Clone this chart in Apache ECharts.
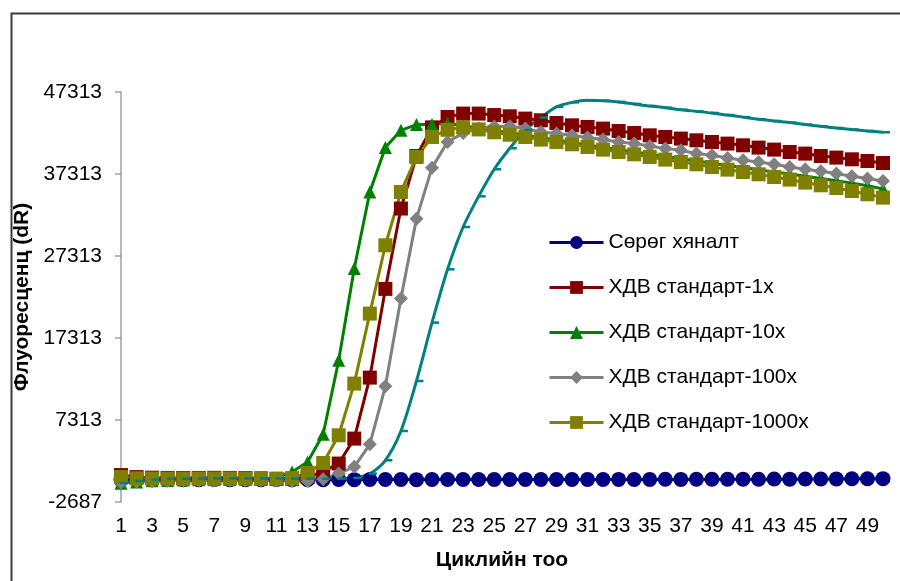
<!DOCTYPE html>
<html>
<head>
<meta charset="utf-8">
<script src="https://cdn.jsdelivr.net/npm/echarts@6/dist/echarts.min.js"></script>
<style>
html,body{margin:0;padding:0;background:#fff;}
#chart{width:900px;height:581px;}
</style>
</head>
<body>
<div id="chart"></div>
<script>
const cycles = Array.from({length: 50}, (_, i) => String(i + 1));
const yTickValues = [-2687, 7313, 17313, 27313, 37313, 47313];

const seriesNames = ['Сөрөг хяналт', 'ХДВ стандарт-1x', 'ХДВ стандарт-10x', 'ХДВ стандарт-100x', 'ХДВ стандарт-1000x'];

const negControl = [40, 30, 30, 40, 30, 40, 50, 40, 30, 40, 50, 40, 30, 40, 50, 40, 50, 60, 50, 40,
  50, 60, 50, 60, 50, 60, 70, 60, 50, 60, 70, 60, 70, 60, 70, 80, 70, 90, 80, 90,
  100, 90, 110, 100, 120, 110, 130, 140, 150, 160];

const std1x = [600, 350, 280, 250, 240, 250, 260, 250, 240, 200, 120, 150, 350, 1000, 2000, 5045, 12483, 23300, 33100, 39500,
  43000, 44264, 44679, 44680, 44500, 44350, 44069, 43860, 43533, 43250, 43045, 42850, 42557, 42313, 42032, 41826, 41630, 41422, 41215, 41020,
  40813, 40532, 40288, 39995, 39800, 39507, 39312, 39105, 38898, 38654];

const std10x = [-400, -250, -100, -50, 0, 20, 50, 50, 80, 100, 250, 970, 2190, 5570, 14590, 25780, 35120, 40530, 42640, 43340,
  43340, 43500, 43200, 42900, 42600, 42350, 42050, 41750, 41450, 41150, 40850, 40550, 40280, 40000, 39720, 39450, 39180, 38900, 38630, 38360,
  38100, 37830, 37560, 37300, 37030, 36760, 36500, 36200, 35870, 35500];

const std100x = [-300, -200, -150, -100, -80, -60, -50, -50, -60, -80, -100, -120, -150, 100, 800, 1600, 4350, 11420, 22120, 31870,
  38090, 41215, 42300, 42850, 43100, 43130, 42850, 42435, 42240, 42032, 41752, 41508, 41215, 41020, 40727, 40410, 40203, 39800, 39593, 39264,
  38983, 38776, 38495, 38166, 37886, 37642, 37361, 37032, 36752, 36460];

const std1000x = [350, 200, 180, 170, 170, 180, 180, 190, 190, 180, 170, 220, 850, 2070, 5450, 11750, 20290, 28620, 35120, 39390,
  41830, 42700, 43000, 42750, 42400, 42100, 41826, 41508, 41215, 40935, 40605, 40288, 39995, 39715, 39386, 39069, 38776, 38495, 38166, 37849,
  37556, 37276, 36947, 36630, 36265, 35935, 35606, 35240, 34838, 34435];

const extraCurve = [-370, -120, 60, 120, 150, 170, 180, 190, 190, 180, 170, 160, 150, 150, 170, 250, 780, 2400, 5970, 12070,
  19190, 25690, 30850, 34590, 37890, 40450, 42700, 44200, 45500, 46050, 46300, 46250, 46100, 45850, 45600, 45400, 45150, 44950, 44750, 44500,
  44250, 44000, 43780, 43580, 43340, 43130, 42920, 42730, 42560, 42400];

const FONT = 'Liberation Sans, Arial, sans-serif';

function mk(name, data, color, symbol, size) {
  return {
    name: name, type: 'line', data: data,
    symbol: symbol, symbolSize: size, showSymbol: true, showAllSymbol: true,
    lineStyle: {color: color, width: 3},
    itemStyle: {color: color},
    emphasis: {disabled: true},
    animation: false
  };
}

const chart = echarts.init(document.getElementById('chart'), null, {renderer: 'canvas'});
chart.setOption({
  backgroundColor: '#ffffff',
  animation: false,
  textStyle: {fontFamily: FONT},
  grid: {left: 121, right: 17, top: 92, bottom: 79, containLabel: false},
  legend: {
    data: seriesNames,
    orient: 'vertical',
    left: 548, top: 232, padding: 0,
    itemWidth: 54, itemHeight: 16, itemGap: 24,
    lineStyle: {width: 3},
    textStyle: {fontSize: 21, color: '#000', fontFamily: FONT, lineHeight: 21},
    selectedMode: false
  },
  xAxis: {
    type: 'category', data: cycles, boundaryGap: false,
    name: 'Циклийн тоо', nameLocation: 'middle', nameGap: 48,
    nameTextStyle: {fontSize: 21, fontWeight: 'bold', color: '#000', fontFamily: FONT},
    axisLine: {lineStyle: {color: '#a0a0a0', width: 1.5}},
    axisTick: {show: true, interval: 1, length: 6, inside: false, lineStyle: {color: '#a0a0a0', width: 1.5}},
    axisLabel: {interval: 1, fontSize: 21, color: '#000', margin: 14, fontFamily: FONT},
    splitLine: {show: false}
  },
  yAxis: {
    type: 'value', min: -2687, max: 47313,
    name: 'Флуоресценц (dR)', nameLocation: 'middle', nameGap: 73, nameRotate: 90,
    nameTextStyle: {fontSize: 21, fontWeight: 'bold', color: '#000', fontFamily: FONT},
    axisLine: {show: true, lineStyle: {color: '#a0a0a0', width: 1.5}},
    axisTick: {show: true, length: 6, customValues: yTickValues, lineStyle: {color: '#a0a0a0', width: 1.5}},
    axisLabel: {customValues: yTickValues, fontSize: 21, color: '#000', margin: 19, fontFamily: FONT,
      formatter: function (v) { return String(Math.round(v)); }},
    splitLine: {show: false}
  },
  graphic: [{
    type: 'rect', left: 9, top: 11, silent: true,
    shape: {x: 0, y: 0, width: 1000, height: 1000},
    style: {fill: 'none', stroke: '#3a3a3a', lineWidth: 2}
  }],
  series: [
    mk(seriesNames[0], negControl, '#000080', 'circle', 15),
    mk(seriesNames[1], std1x, '#800000', 'rect', 14),
    mk(seriesNames[2], std10x, '#008000', 'triangle', 13),
    mk(seriesNames[3], std100x, '#808080', 'diamond', 14),
    mk(seriesNames[4], std1000x, '#808000', 'rect', 14),
    {
      name: 'extra', type: 'line', data: extraCurve,
      symbol: 'rect', symbolSize: [8, 2.5], symbolOffset: [3, 0],
      showSymbol: true, showAllSymbol: true,
      smooth: 0.3,
      lineStyle: {color: '#008080', width: 3},
      itemStyle: {color: '#008080'},
      emphasis: {disabled: true}, animation: false
    }
  ]
});
</script>
</body>
</html>
